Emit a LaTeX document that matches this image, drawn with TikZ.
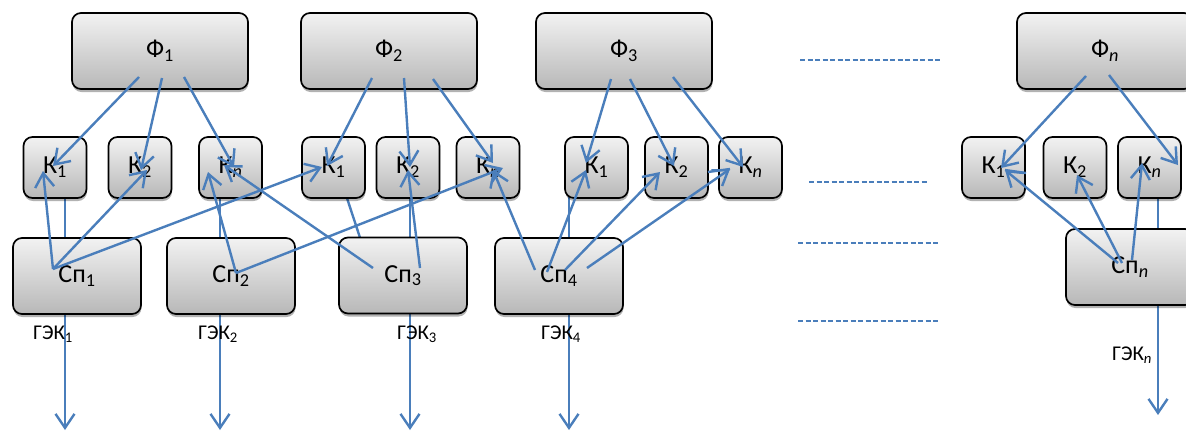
\documentclass[tikz,border=0pt]{standalone}
\usepackage{fontspec}
\setmainfont{Carlito}
\usetikzlibrary{arrows.meta,shadows,backgrounds}
\definecolor{lineblue}{RGB}{74,126,187}
\newcommand\sbs[1]{\textsubscript{#1}}
\begin{document}
\begin{tikzpicture}[x=1pt,y=-1pt,
  box/.style={draw=black, line width=1.7pt, rounded corners=9pt,
    top color=black!5, bottom color=black!28,
    drop shadow={shadow xshift=0.5pt,shadow yshift=-3pt,opacity=0.3,fill=black},
    font=\fontsize{26}{30}\selectfont, inner sep=0pt},
  fbox/.style={box, minimum width=176pt, minimum height=76pt},
  kbox/.style={box, minimum width=63pt, minimum height=61pt},
  sbox/.style={box, minimum width=128pt, minimum height=76pt},
  lbl/.style={font=\fontsize{21}{25}\selectfont, inner sep=0pt},
  link/.style={draw=lineblue, line width=2.4pt},
  arr/.style={link, -{Straight Barb[length=14pt,width=19pt]}},
  dashline/.style={draw=lineblue, line width=1.4pt, dash pattern=on 5pt off 2.5pt}]
\useasboundingbox (0,0) rectangle (1186,432);
% top boxes
\node[fbox] (F1) at (160,51) {Ф\sbs{1}};
\node[fbox] (F2) at (389,51) {Ф\sbs{2}};
\node[fbox] (F3) at (624,51) {Ф\sbs{3}};
\node[fbox] (Fn) at (1105,51) {Ф\sbs{\itshape n}};
% K boxes
\node[kbox] (Ka1) at (55,167.5) {К\sbs{1}};
\node[kbox] (Ka2) at (140,167.5) {К\sbs{2}};
\node[kbox] (Kan) at (230.5,167.5) {К\sbs{\itshape n}};
\node[kbox] (Kb1) at (333.5,167.5) {К\sbs{1}};
\node[kbox] (Kb2) at (408,167.5) {К\sbs{2}};
\node[kbox] (Kbn) at (488,167.5) {К\sbs{\itshape n}};
\node[kbox] (Kc1) at (596.5,167.5) {К\sbs{1}};
\node[kbox] (Kc2) at (676.5,167.5) {К\sbs{2}};
\node[kbox] (Kcn) at (750.5,167.5) {К\sbs{\itshape n}};
\node[kbox] (Kn1) at (993.5,167.5) {К\sbs{1}};
\node[kbox] (Kn2) at (1075,167.5) {К\sbs{2}};
\node[kbox] (Knn) at (1149.5,167.5) {К\sbs{\itshape n}};
% Sp boxes
\node[sbox] (S1) at (77,276) {Сп\sbs{1}};
\node[sbox] (S2) at (231,276) {Сп\sbs{2}};
\node[sbox] (S3) at (403,275.5) {Сп\sbs{3}};
\node[sbox] (S4) at (559,276) {Сп\sbs{4}};
\node[sbox] (Sn) at (1130,267) {Сп\sbs{\itshape n}};
% labels
\node[lbl] (G1) at (53,334) {ГЭК\sbs{1}};
\node[lbl] (G2) at (218,334) {ГЭК\sbs{2}};
\node[lbl] (G3) at (417,334) {ГЭК\sbs{3}};
\node[lbl] (G4) at (561,334) {ГЭК\sbs{4}};
\node[lbl] (Gn) at (1132,355) {ГЭК\sbs{\itshape n}};
% end points
\coordinate (e1) at (65,430);
\coordinate (e2) at (220,430);
\coordinate (e3) at (410,430);
\coordinate (e4) at (569,430);
\coordinate (en) at (1158,415);
% background lines
\begin{scope}[on background layer]
\draw[arr] ([shift={(10,0)}]Ka1.center) -- (e1);
\draw[arr] ([shift={(-10.5,0)}]Kan.center) -- (e2);
\draw[arr] ([shift={(2,0)}]Kb2.center) -- (e3);
\draw[arr] ([shift={(-27.5,0)}]Kc1.center) -- (e4);
\draw[arr] ([shift={(8.5,0)}]Knn.center) -- (en);
\draw[link] ([shift={(-33,-7.5)}]S3.center) -- ([shift={(9.5,18.5)}]Kb1.center);
\end{scope}
% F -> K
\draw[arr] ([shift={(-21,26)}]F1.center) -- ([shift={(-2,-1.5)}]Ka1.center);
\draw[arr] ([shift={(2,27)}]F1.center) -- ([shift={(1,2.5)}]Ka2.center);
\draw[arr] ([shift={(24,26)}]F1.center) -- ([shift={(3.5,-0.5)}]Kan.center);
\draw[arr] ([shift={(-17,27)}]F2.center) -- ([shift={(-6.5,-1.5)}]Kb1.center);
\draw[arr] ([shift={(15,27)}]F2.center) -- ([shift={(2,-0.5)}]Kb2.center);
\draw[arr] ([shift={(44,28)}]F2.center) -- ([shift={(5,-4.5)}]Kbn.center);
\draw[arr] ([shift={(-13,28)}]F3.center) -- ([shift={(-10.5,-4.5)}]Kc1.center);
\draw[arr] ([shift={(6,28)}]F3.center) -- ([shift={(-2.5,-1.5)}]Kc2.center);
\draw[arr] ([shift={(49,26)}]F3.center) -- ([shift={(-7.5,-0.5)}]Kcn.center);
\draw[arr] ([shift={(-19,25)}]Fn.center) -- ([shift={(7.5,0.5)}]Kn1.center);
\draw[arr] ([shift={(4,24)}]Fn.center) -- ([shift={(28.5,-2.5)}]Knn.center);
% Sp -> K
\draw[arr] ([shift={(-24,-7)}]S1.center) -- ([shift={(-12,3.5)}]Ka1.center);
\draw[arr] ([shift={(-24,-7)}]S1.center) -- ([shift={(7,2.5)}]Ka2.center);
\draw[arr] ([shift={(-24,-7)}]S1.center) -- ([shift={(-11.5,-0.5)}]Kb1.center);
\draw[arr] ([shift={(5,-3)}]S2.center) -- ([shift={(-22.5,4.5)}]Kan.center);
\draw[arr] ([shift={(5,-3)}]S2.center) -- ([shift={(15,0.5)}]Kbn.center);
\draw[arr] ([shift={(-30,-7.5)}]S3.center) -- ([shift={(-6.5,-2.5)}]Kan.center);
\draw[arr] ([shift={(17,-7.5)}]S3.center) -- ([shift={(0,2.5)}]Kb2.center);
\draw[arr] ([shift={(-24,-6)}]S4.center) -- ([shift={(5,2.5)}]Kbn.center);
\draw[arr] ([shift={(-12,-4)}]S4.center) -- ([shift={(-10.5,2.5)}]Kc1.center);
\draw[arr] ([shift={(6,-6)}]S4.center) -- ([shift={(-16.5,4.5)}]Kc2.center);
\draw[arr] ([shift={(28,-8)}]S4.center) -- ([shift={(-20.5,1.5)}]Kcn.center);
\draw[arr] ([shift={(-12,-4)}]Sn.center) -- ([shift={(11.5,2.5)}]Kn1.center);
\draw[arr] ([shift={(-8,-4)}]Sn.center) -- ([shift={(2,7.5)}]Kn2.center);
\draw[arr] ([shift={(2,-7)}]Sn.center) -- ([shift={(-7.5,-4.5)}]Knn.center);
% short joining lines
\draw[link] ([shift={(31.5,4.5)}]Kc2.center) -- ([shift={(-20.5,1.5)}]Kcn.center);
\draw[link] ([shift={(32.5,5.5)}]Kn1.center) -- ([shift={(11.5,2.5)}]Kn1.center);
% dashed lines
\coordinate (d1a) at (800,60); \coordinate (d1b) at (940,60);
\coordinate (d2a) at (809,182); \coordinate (d2b) at (927,182);
\coordinate (d3a) at (798,243); \coordinate (d3b) at (938,243);
\coordinate (d4a) at (798,321); \coordinate (d4b) at (938,321);
\draw[dashline] (d1a) -- (d1b);
\draw[dashline] (d2a) -- (d2b);
\draw[dashline] (d3a) -- (d3b);
\draw[dashline] (d4a) -- (d4b);
\end{tikzpicture}
\end{document}
